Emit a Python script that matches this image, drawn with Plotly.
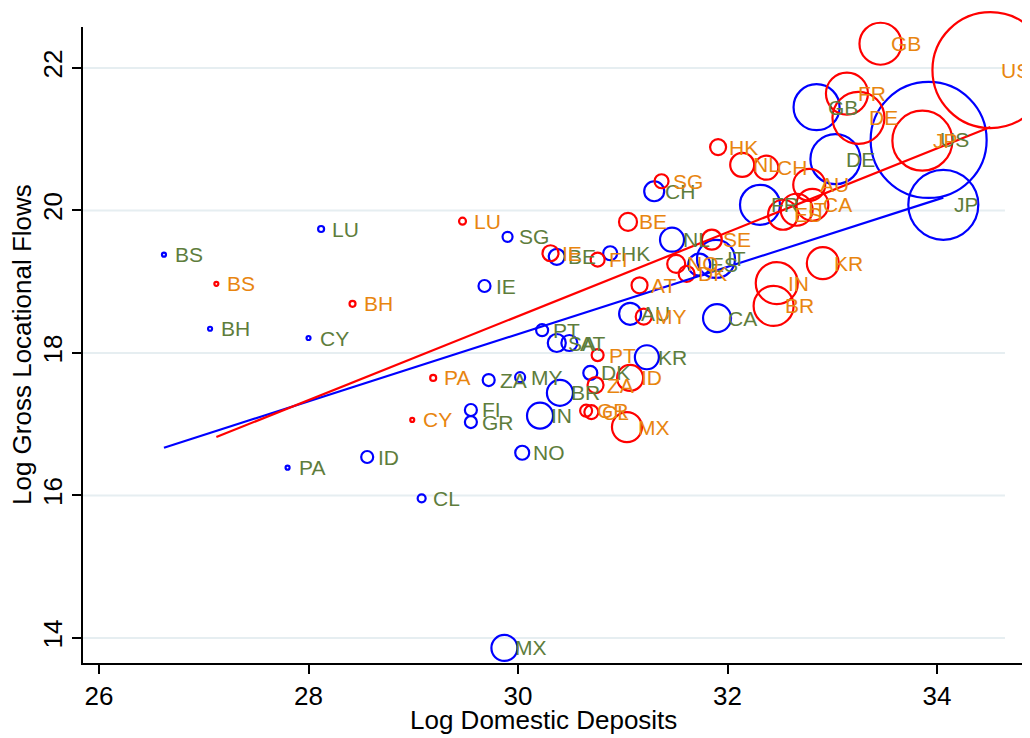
import plotly.graph_objects as go

# ---------------- data ----------------
blue_codes = ["BS", "BH", "LU", "CY", "PA", "ID", "CL", "IE", "SG", "FI", "GR", "ZA",
              "MY", "NO", "MX", "IN", "BR", "PT", "SA", "AT", "BE", "HK", "CH", "NL",
              "ES", "IT", "AU", "CA", "KR", "DK", "GB", "DE", "US", "JP", "FR"]
blue_x = [26.62, 27.06, 28.12, 28.00, 27.80, 28.56, 29.08, 29.68, 29.90, 29.55, 29.55, 29.72,
          30.02, 30.04, 29.87, 30.21, 30.40, 30.23, 30.37, 30.49, 30.37, 30.88, 31.30, 31.47,
          31.73, 31.89, 31.07, 31.90, 31.23, 30.69, 32.85, 33.03, 33.92, 34.06, 32.31]
blue_y = [19.38, 18.34, 19.74, 18.21, 16.39, 16.54, 15.96, 18.94, 19.63, 17.20, 17.03, 17.62,
          17.66, 16.60, 13.86, 17.12, 17.44, 18.32, 18.14, 18.14, 19.35, 19.40, 20.27, 19.59,
          19.24, 19.32, 18.55, 18.49, 17.94, 17.72, 21.45, 20.72, 20.99, 20.08, 20.08]
blue_weight = [4, 4, 9, 4, 4, 36, 16, 36, 25, 36, 36, 36,
               25, 49, 169, 169, 169, 36, 81, 64, 64, 49, 100, 144,
               121, 361, 121, 196, 144, 49, 529, 625, 3364, 1225, 400]

red_codes = ["US", "GB", "FR", "DE", "JP", "HK", "NL", "CH", "AU", "ES", "IT", "CA",
             "SG", "BE", "LU", "IE", "FI", "SE", "NO", "DK", "AT", "MY", "IN", "BR",
             "KR", "PT", "ID", "ZA", "MX", "GR", "CL", "BS", "BH", "PA", "CY"]
red_x = [34.51, 33.46, 33.14, 33.25, 33.86, 31.91, 32.14, 32.37, 32.78, 32.53, 32.66, 32.81,
         31.37, 31.05, 29.47, 30.31, 30.76, 31.85, 31.51, 31.61, 31.16, 31.20, 32.47, 32.44,
         32.91, 30.76, 31.07, 30.74, 31.04, 30.65, 30.70, 27.12, 28.42, 29.19, 28.99]
red_y = [21.97, 22.34, 21.64, 21.30, 20.98, 20.89, 20.64, 20.60, 20.36, 19.94, 20.01, 20.08,
         20.41, 19.84, 19.85, 19.40, 19.31, 19.59, 19.25, 19.11, 18.95, 18.51, 18.98, 18.66,
         19.26, 17.97, 17.65, 17.55, 16.96, 17.19, 17.17, 18.97, 18.69, 17.65, 17.06]
red_weight = [3364, 441, 441, 676, 900, 64, 144, 144, 256, 225, 256, 256,
              49, 81, 12, 64, 49, 100, 81, 64, 64, 64, 441, 400,
              256, 36, 169, 64, 225, 36, 49, 4, 9, 9, 4]

# linear fits (slope, intercept) drawn over each series' x span
blue_fit = (0.4718, 4.111)
red_fit = (0.5889, 0.849)

x_ticks = [26, 28, 30, 32, 34]
y_ticks = [14, 16, 18, 20, 22]

# ---------------- styles ----------------
FONT = "Liberation Sans, Arial, Helvetica, sans-serif"
BLUE, RED = "#0000FF", "#FF0000"
GREEN_LBL, ORANGE_LBL = "#5E7D3C", "#E8850F"

fig = go.Figure()

for xs, ys, ws, col in [(blue_x, blue_y, blue_weight, BLUE), (red_x, red_y, red_weight, RED)]:
    fig.add_trace(go.Scatter(
        x=xs, y=ys, mode="markers",
        marker=dict(symbol="circle-open", size=ws, sizemode="area", sizeref=0.5,
                    opacity=1, color=col, line=dict(width=2.2, color=col)),
        hoverinfo="skip", showlegend=False, cliponaxis=False))

for xs, fit, col in [(blue_x, blue_fit, BLUE), (red_x, red_fit, RED)]:
    x0, x1 = min(xs), max(xs)
    fig.add_trace(go.Scatter(
        x=[x0, x1], y=[fit[0] * x0 + fit[1], fit[0] * x1 + fit[1]],
        mode="lines", line=dict(color=col, width=2.2),
        hoverinfo="skip", showlegend=False))

annotations = []
for codes, xs, ys, col in [(blue_codes, blue_x, blue_y, GREEN_LBL),
                           (red_codes, red_x, red_y, ORANGE_LBL)]:
    for c, xv, yv in zip(codes, xs, ys):
        annotations.append(dict(x=xv, y=yv, xref="x", yref="y", text=c, showarrow=False,
                                xanchor="left", yanchor="middle", xshift=9, yshift=0,
                                font=dict(family=FONT, size=21, color=col)))

annotations.append(dict(x=0.4827, y=0, xref="paper", yref="paper", text="Log Domestic Deposits",
                        showarrow=False, xanchor="center", yanchor="middle", yshift=-57,
                        font=dict(family=FONT, size=26, color="black")))
annotations.append(dict(x=0, y=0.5, xref="paper", yref="paper", text="Log Gross Locational Flows",
                        showarrow=False, xanchor="center", yanchor="middle", xshift=-61,
                        textangle=-90, font=dict(family=FONT, size=26, color="black")))

shapes = [dict(type="line", xref="paper", yref="y", x0=0, x1=0.9654, y0=t, y1=t,
               line=dict(color="#E6EEF1", width=2), layer="below") for t in y_ticks]

# page body has an 8px margin, so the figure is shifted by 8px right and down
fig.update_layout(
    width=1030, height=730,
    margin=dict(l=75, r=0, t=19, b=75),
    paper_bgcolor="white", plot_bgcolor="white",
    font=dict(family=FONT, color="black"),
    annotations=annotations, shapes=shapes,
    xaxis=dict(range=[25.847, 34.964], tickvals=x_ticks, showgrid=False, zeroline=False,
               showline=True, linecolor="black", linewidth=1.8,
               ticks="outside", ticklen=9, tickwidth=1.6, tickcolor="black",
               tickfont=dict(size=26, family=FONT)),
    yaxis=dict(range=[13.649, 22.575], tickvals=y_ticks, showgrid=False, zeroline=False,
               showline=True, linecolor="black", linewidth=1.8,
               ticks="outside", ticklen=9, tickwidth=1.6, tickcolor="black",
               tickangle=-90, tickfont=dict(size=26, family=FONT)),
)

fig.write_html("out.html")
